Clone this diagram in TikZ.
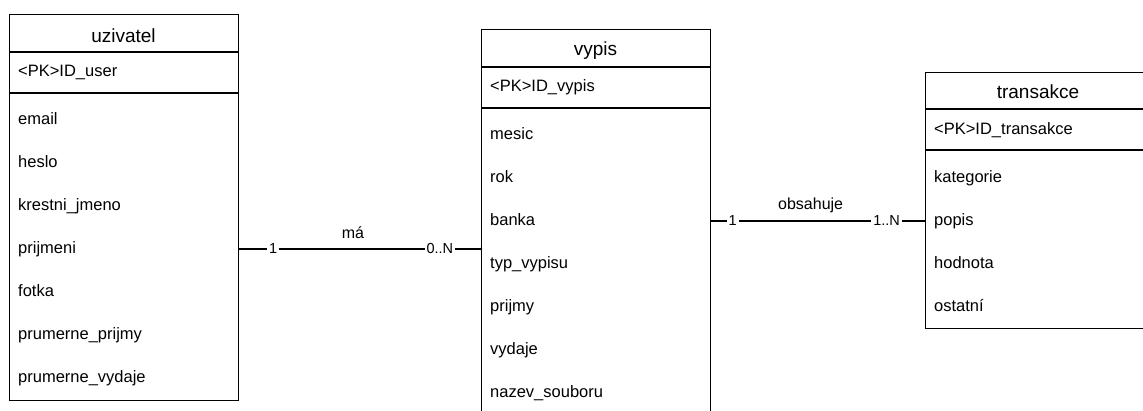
\documentclass[tikz,border=0pt]{standalone}
\usepackage{fontspec}
\setmainfont{Liberation Sans}
\begin{document}
\begin{tikzpicture}[x=1pt,y=-1pt]
\tikzset{tabulka/.style={draw, line width=1.3pt, rectangle, inner sep=0pt, anchor=north west},
  nazev/.style={anchor=base, inner sep=0pt, font=\fontsize{19}{22}\selectfont},
  polozka/.style={anchor=base west, inner sep=0pt, text height=12pt, text depth=4pt, font=\fontsize{16.5}{20}\selectfont},
  kardinalita/.style={fill=white, inner sep=2pt, font=\fontsize{14.5}{17}\selectfont},
  vztah/.style={anchor=base, inner sep=0pt, font=\fontsize{16}{19}\selectfont}}
\useasboundingbox (0,0) rectangle (1143,410);
\clip (0,0) rectangle (1143,410);
% uzivatel
\node[tabulka, minimum width=229pt, minimum height=386pt] (uzivatel) at (9,14) {};
\draw[line width=1.3pt] (9,52) -- (238,52);
\draw[line width=1.3pt] (9,93) -- (238,93);
\node[nazev] (uzivatelNazev) at (123.5,42) {uzivatel};
\node[polozka] (uzivatelPK) at (18,76) {<PK>ID\_user};
\foreach \jmeno/\polozka [count=\i from 0] in {email/email, heslo/heslo, krestni/krestni\_jmeno, prijmeni/prijmeni, fotka/fotka, prijmy/prumerne\_prijmy, vydaje/prumerne\_vydaje}
  \node[polozka] (u-\jmeno) at (18,124+43*\i) {\polozka};
% vypis
\node[tabulka, minimum width=229pt, minimum height=420pt] (vypis) at (481,29) {};
\draw[line width=1.3pt] (481,67) -- (710,67);
\draw[line width=1.3pt] (481,108) -- (710,108);
\node[nazev] (vypisNazev) at (595.5,55) {vypis};
\node[polozka] (vypisPK) at (490,91) {<PK>ID\_vypis};
\foreach \jmeno/\polozka [count=\i from 0] in {mesic/mesic, rok/rok, banka/banka, typ/typ\_vypisu, prijmy/prijmy, vydaje/vydaje, soubor/nazev\_souboru}
  \node[polozka] (v-\jmeno) at (490,139+43*\i) {\polozka};
% transakce
\node[tabulka, minimum width=240pt, minimum height=256pt] (transakce) at (925,72) {};
\draw[line width=1.3pt] (925,109) -- (1165,109);
\draw[line width=1.3pt] (925,150) -- (1165,150);
\node[nazev] (transakceNazev) at (1038,98) {transakce};
\node[polozka] (transakcePK) at (934,134) {<PK>ID\_transakce};
\foreach \jmeno/\polozka [count=\i from 0] in {kategorie/kategorie, popis/popis, hodnota/hodnota, ostatni/ostatní}
  \node[polozka] (t-\jmeno) at (934,182+43*\i) {\polozka};
% vztahy
\draw[line width=1.3pt] (uzivatel.east |- u-prijmeni) -- (vypis.west |- u-prijmeni)
  node[kardinalita, pos=0.14] {1}
  node[kardinalita, pos=0.83] {0..N}
  node[vztah, pos=0.47, yshift=11pt] {má};
\fill (vypis.west |- u-prijmeni) circle (1.3pt);
\draw[line width=1.3pt] (vypis.east |- v-banka) -- (transakce.west |- v-banka)
  node[kardinalita, pos=0.1] {1}
  node[kardinalita, pos=0.82] {1..N}
  node[vztah, pos=0.465, yshift=12pt] {obsahuje};
\end{tikzpicture}
\end{document}
